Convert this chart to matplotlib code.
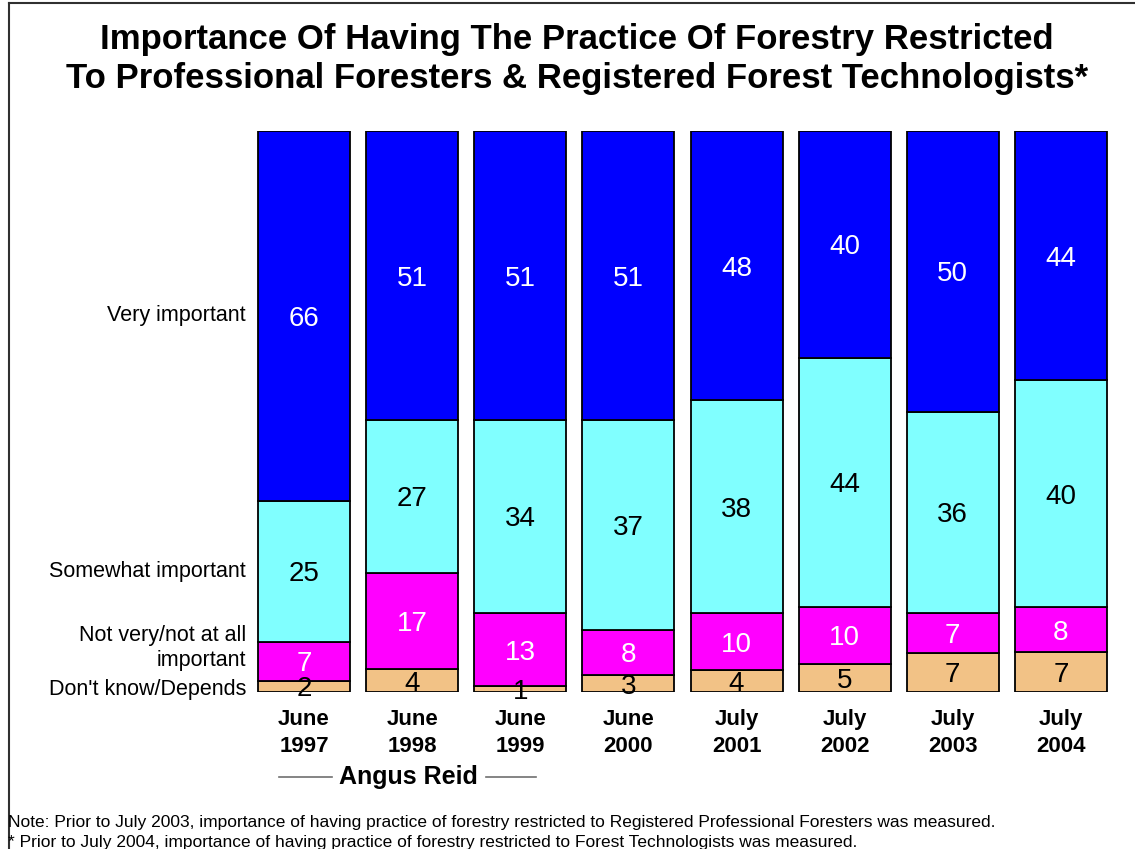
import numpy as np
import matplotlib
matplotlib.use('Agg')
import matplotlib.pyplot as plt
from matplotlib.lines import Line2D

plt.rcParams['font.family'] = ['Liberation Sans', 'DejaVu Sans']

# survey waves
periods = ['June\n1997', 'June\n1998', 'June\n1999', 'June\n2000',
           'July\n2001', 'July\n2002', 'July\n2003', 'July\n2004']
# percentages, bottom to top
dont_know = [2, 4, 1, 3, 4, 5, 7, 7]
not_very = [7, 17, 13, 8, 10, 10, 7, 8]
somewhat = [25, 27, 34, 37, 38, 44, 36, 40]
very = [66, 51, 51, 51, 48, 40, 50, 44]

series = [dont_know, not_very, somewhat, very]
colors = ['#F2C286', '#FF00FF', '#80FFFF', '#0000FF']
txtcol = ['black', 'white', 'black', 'white']
cat_labels = ["Don't know/Depends", 'Not very/not at all\nimportant',
              'Somewhat important', 'Very important']

W, H = 1135, 849
fig = plt.figure(figsize=(W / 100, H / 100), dpi=100)
ax = fig.add_axes([250 / W, (H - 692) / H, 865 / W, 561 / H])

vals = np.array(series, dtype=float)
totals = vals.sum(axis=0)
x = np.arange(len(periods))
bottom = np.zeros(len(periods))
for k in range(len(series)):
    h = vals[k] / totals * 100
    ax.bar(x, h, bottom=bottom, width=0.85, color=colors[k],
           edgecolor='black', linewidth=1.3)
    for i in range(len(x)):
        ax.text(x[i], bottom[i] + h[i] / 2, '%d' % vals[k][i], ha='center',
                va='center_baseline', fontsize=20, color=txtcol[k])
    bottom += h

ax.set_xlim(-0.5, 7.5)
ax.set_ylim(0, 100)
ax.axis('off')

# category labels on the left
cat_y = [689, 648, 572, 316]
for lab, yp in zip(cat_labels, cat_y):
    fig.text(246 / W, 1 - yp / H, lab, ha='right', va='center', fontsize=15.5,
             linespacing=1.3)

# period labels
for i, p in enumerate(periods):
    ax.annotate(p, xy=(x[i], 0), xycoords='data', xytext=(0, -41),
                textcoords='offset pixels', ha='center', va='center',
                fontsize=16, fontweight='bold', linespacing=1.35)

# title
fig.text(577 / W, 1 - 59 / H,
         'Importance Of Having The Practice Of Forestry Restricted\n'
         'To Professional Foresters & Registered Forest Technologists*',
         ha='center', va='center', fontsize=25, fontweight='bold',
         linespacing=1.25)

# source
fig.text(408 / W, 1 - 777 / H, 'Angus Reid', ha='center', va='center',
         fontsize=18, fontweight='bold')
fig.add_artist(Line2D([279 / W, 332 / W], [1 - 777 / H] * 2, color='#707070', lw=1.2))
fig.add_artist(Line2D([486 / W, 536 / W], [1 - 777 / H] * 2, color='#707070', lw=1.2))

# notes
fig.text(8 / W, 1 - 822 / H,
         'Note: Prior to July 2003, importance of having practice of forestry restricted '
         'to Registered Professional Foresters was measured.',
         ha='left', va='center', fontsize=12.5)
fig.text(8 / W, 1 - 842 / H,
         '* Prior to July 2004, importance of having practice of forestry restricted '
         'to Forest Technologists was measured.',
         ha='left', va='center', fontsize=12.5)

# outer frame (left and top edges visible)
fig.add_artist(Line2D([9 / W, 9 / W], [0, 1 - 3 / H], color='#303030', lw=1.5))
fig.add_artist(Line2D([9 / W, 1], [1 - 3 / H] * 2, color='#303030', lw=1.5))

fig.savefig('out.png', dpi=100)
